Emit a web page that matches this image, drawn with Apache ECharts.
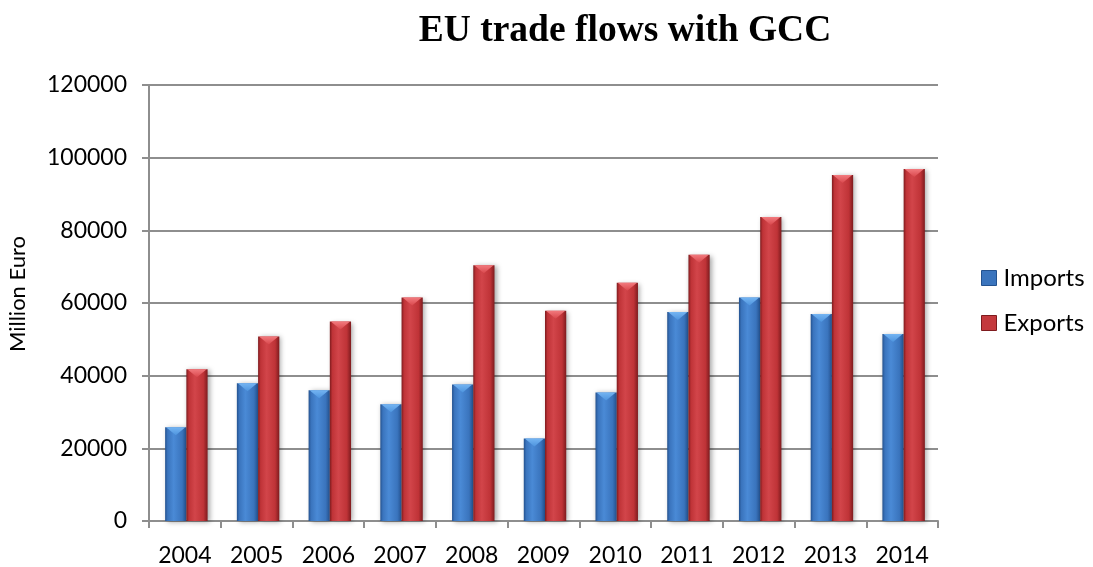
<!DOCTYPE html>
<html>
<head>
<meta charset="utf-8">
<title>EU trade flows with GCC</title>
<script src="https://cdn.jsdelivr.net/npm/echarts@6/dist/echarts.min.js"></script>
<style>
  html, body { margin: 0; padding: 0; background: #ffffff; }
  #chart { width: 1093px; height: 567px; }
</style>
</head>
<body>
<div id="chart"></div>
<script>
// EU trade with the Gulf Cooperation Council, million euro
const years = ['2004', '2005', '2006', '2007', '2008', '2009', '2010', '2011', '2012', '2013', '2014'];
const imports = [25800, 37900, 36000, 32100, 37600, 22700, 35400, 57500, 61500, 57000, 51500];
const exports = [41800, 50800, 54900, 61500, 70400, 57900, 65600, 73300, 83700, 95200, 96900];
const yTicks = [0, 20000, 40000, 60000, 80000, 100000, 120000];

const FONT = 'Lato, "Open Sans", sans-serif';
const GRID_COLOR = '#8e8e8e';

// bar palettes: edge, body, highlight, bevel
const palettes = {
  Imports: { edge: '#24528f', body: '#3a74bd', light: '#4a8ad6', bevel: '#74b4f2', bevelEdge: '#4e94de' },
  Exports: { edge: '#7e1b1e', body: '#bf3337', light: '#d2454a', bevel: '#f27a7e', bevelEdge: '#d9484d' }
};

// each bar is a shaded column with a bevelled top, placed in its category slot
function makeRenderer(slot, pal) {
  return function (params, api) {
    const idx = api.value(0);
    const v = api.value(1);
    const top = api.coord([idx, v]);
    const base = api.coord([idx, 0]);
    const band = api.size([1, 0])[0];
    const bw = band * 0.296;
    const x = top[0] - bw + slot * bw + 1.5;
    const y = top[1];
    const h = base[1] - top[1];
    const bevel = Math.min(8, h);
    const fill = new echarts.graphic.LinearGradient(0, 0, 1, 0, [
      { offset: 0, color: pal.edge },
      { offset: 0.12, color: pal.body },
      { offset: 0.4, color: pal.light },
      { offset: 0.8, color: pal.body },
      { offset: 1, color: pal.edge }
    ]);
    return {
      type: 'group',
      children: [
        {
          type: 'rect',
          shape: { x: x, y: y, width: bw, height: h },
          style: {
            fill: fill,
            shadowBlur: 5,
            shadowOffsetX: 2,
            shadowOffsetY: 1,
            shadowColor: 'rgba(0,0,0,0.35)'
          }
        },
        {
          type: 'polygon',
          shape: { points: [[x + 1, y], [x + bw - 1, y], [x + bw / 2, y + bevel]] },
          style: {
            fill: new echarts.graphic.LinearGradient(0, 0, 0, 1, [
              { offset: 0, color: pal.bevel },
              { offset: 1, color: pal.bevelEdge }
            ])
          }
        }
      ]
    };
  };
}

function seriesData(values) {
  return values.map((v, i) => [i, v]);
}

const chart = echarts.init(document.getElementById('chart'), null, { renderer: 'canvas' });

chart.setOption({
  animation: false,
  backgroundColor: '#ffffff',
  title: {
    text: 'EU trade flows with GCC',
    left: 620,
    top: 7,
    textAlign: 'center',
    textStyle: {
      fontFamily: '"Liberation Serif", "Times New Roman", serif',
      fontWeight: 'bold',
      fontSize: 37.5,
      color: '#000000'
    }
  },
  legend: {
    orient: 'vertical',
    left: 976,
    top: 261,
    itemWidth: 15,
    itemHeight: 15,
    itemGap: 21,
    icon: 'rect',
    textStyle: { fontFamily: FONT, fontSize: 24, color: '#000000', padding: [0, 0, 0, 2] },
    data: [
      { name: 'Imports', itemStyle: { color: '#3a74bd', borderColor: '#24528f', borderWidth: 1 } },
      { name: 'Exports', itemStyle: { color: '#c4393d', borderColor: '#7e1b1e', borderWidth: 1 } }
    ]
  },
  grid: { left: 149, right: 155, top: 85, bottom: 46, outerBoundsMode: 'none' },
  xAxis: {
    type: 'category',
    data: years,
    boundaryGap: true,
    axisLine: { lineStyle: { color: GRID_COLOR, width: 2 } },
    axisTick: { show: true, inside: false, length: 7, alignWithLabel: false, lineStyle: { color: GRID_COLOR, width: 2 } },
    axisLabel: { margin: 23, fontFamily: FONT, fontSize: 23, color: '#000000' },
    splitLine: { show: false }
  },
  yAxis: {
    type: 'value',
    min: yTicks[0],
    max: yTicks[yTicks.length - 1],
    interval: yTicks[1] - yTicks[0],
    name: 'Million Euro',
    nameLocation: 'middle',
    nameRotate: 90,
    nameGap: 120,
    nameTextStyle: { fontFamily: FONT, fontSize: 22, color: '#000000', padding: [0, 0, 0, 18] },
    axisLine: { show: true, lineStyle: { color: GRID_COLOR, width: 2 } },
    axisTick: { show: true, inside: false, length: 7, lineStyle: { color: GRID_COLOR, width: 2 } },
    axisLabel: { margin: 22, fontFamily: FONT, fontSize: 23, color: '#000000', formatter: (v) => String(v) },
    splitLine: { show: true, lineStyle: { color: GRID_COLOR, width: 2 } }
  },
  series: [
    {
      name: 'Imports',
      type: 'custom',
      renderItem: makeRenderer(0, palettes.Imports),
      encode: { x: 0, y: 1 },
      itemStyle: { color: '#3a74bd' },
      data: seriesData(imports),
      z: 3
    },
    {
      name: 'Exports',
      type: 'custom',
      renderItem: makeRenderer(1, palettes.Exports),
      encode: { x: 0, y: 1 },
      itemStyle: { color: '#c4393d' },
      data: seriesData(exports),
      z: 3
    }
  ]
});
</script>
</body>
</html>
